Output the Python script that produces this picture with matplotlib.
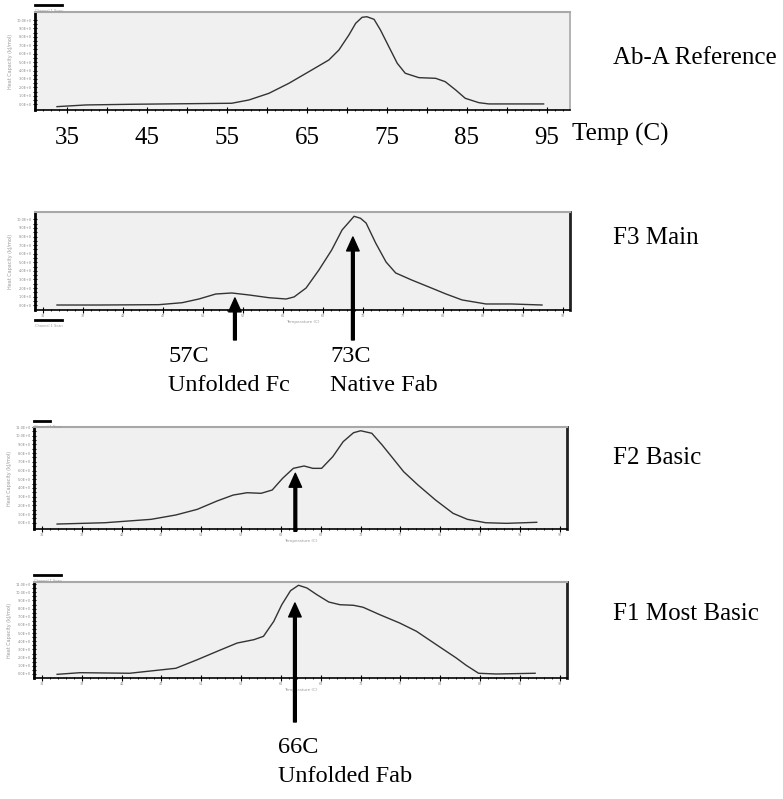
import numpy as np
import matplotlib
matplotlib.use("Agg")
import matplotlib.pyplot as plt

plt.rcParams["font.family"] = ["Liberation Serif", "DejaVu Serif"]

# curve data: temperature (C) and signal (instrument units)
ref_t = [33.75, 37.4, 43.1, 55.6, 57.75, 60.25, 62.75, 65.25, 67.75, 69.0, 70.25, 71.1, 71.9,
         72.5, 73.4, 74.2, 75.25, 76.3, 77.3, 79.0, 81.1, 82.3, 83.6, 84.8, 86.5, 87.75, 94.6]
ref_v = [-0.28, -0.08, 0.0, 0.12, 0.51, 1.30, 2.49, 3.87, 5.26, 6.44, 8.22, 9.61, 10.32,
         10.39, 10.08, 8.81, 6.83, 4.86, 3.68, 3.16, 3.08, 2.68, 1.70, 0.71, 0.19, 0.04, 0.04]

f3_t = [33.75, 39.0, 46.5, 49.4, 51.5, 53.6, 55.6, 57.75, 60.25, 62.4, 63.4, 64.9, 66.5, 68.1,
        69.4, 70.9, 71.7, 72.4, 73.6, 74.9, 76.1, 78.1, 80.25, 82.4, 84.4, 87.4, 90.6, 94.4]
f3_v = [0.03, 0.03, 0.07, 0.3, 0.73, 1.31, 1.43, 1.2, 0.88, 0.73, 0.97, 2.01, 4.1, 6.43,
        8.76, 10.35, 10.12, 9.57, 7.24, 5.03, 3.76, 2.94, 2.13, 1.31, 0.62, 0.15, 0.15, 0.03]

f2_t = [33.9, 39.9, 45.7, 48.8, 51.5, 53.95, 56.0, 57.75, 59.5, 60.9, 62.2, 63.55, 64.9, 66.0,
        67.1, 68.5, 69.8, 71.1, 72.0, 73.4, 74.7, 76.05, 77.4, 79.2, 81.4, 83.6, 85.4, 87.7,
        90.3, 94.1]
f2_v = [-0.15, 0.0, 0.39, 0.89, 1.54, 2.49, 3.18, 3.45, 3.38, 3.76, 5.1, 6.25, 6.52, 6.25,
        6.25, 7.59, 9.31, 10.34, 10.57, 10.28, 8.93, 7.4, 5.86, 4.33, 2.61, 1.08, 0.39, 0.0,
        -0.07, 0.05]

f1_t = [33.9, 36.8, 43.0, 48.8, 51.5, 54.0, 56.5, 58.6, 59.8, 61.1, 62.1, 63.2, 64.2, 65.25,
        66.5, 68.0, 69.4, 71.1, 72.3, 74.4, 76.9, 79.0, 81.5, 84.0, 85.25, 86.8, 89.0, 93.9]
f1_v = [-0.04, 0.16, 0.09, 0.7, 1.75, 2.78, 3.79, 4.20, 4.61, 6.45, 8.48, 10.20, 10.86, 10.53,
        9.71, 8.81, 8.48, 8.41, 8.17, 7.26, 6.24, 5.23, 3.59, 1.96, 1.06, 0.09, 0.0, 0.09]

panel_names = ["Ab-A Reference", "F3 Main", "F2 Basic", "F1 Most Basic"]
big_ticks = [35, 45, 55, 65, 75, 85, 95]

W, H = 783, 799
fig = plt.figure(figsize=(W / 100, H / 100), dpi=100)


def px_rect(left, top, right, bottom):
    return [left / W, 1 - bottom / H, (right - left) / W, (bottom - top) / H]


panels = [
    (ref_t, ref_v, px_rect(35, 12, 570, 110), (-0.68, 10.95), 10, 58),
    (f3_t, f3_v, px_rect(35, 212, 570, 310), (-0.55, 10.85), 10, 238),
    (f2_t, f2_v, px_rect(34, 427, 567, 529), (-0.72, 11.0), 11, 458),
    (f1_t, f1_v, px_rect(34, 582, 567, 678), (-0.49, 11.26), 11, 614),
]

axes = []
for i, (t, v, rect, ylim, ntick, label_y) in enumerate(panels):
    ax = fig.add_axes(rect)
    ax.set_facecolor("#f0f0f0")
    ax.plot(t, v, color="#333333", lw=1.0)
    ax.set_xlim(31, 97.9)
    ax.set_ylim(*ylim)

    ax.spines["top"].set_color("#a8a8a8")
    ax.spines["top"].set_linewidth(1.5)
    ax.spines["left"].set_linewidth(2)
    ax.spines["bottom"].set_linewidth(1.2)
    if i == 0:
        ax.spines["right"].set_color("#a8a8a8")
        ax.spines["right"].set_linewidth(1.2)
    else:
        ax.spines["right"].set_color("#222222")
        ax.spines["right"].set_linewidth(2)

    ax.set_yticks(np.arange(0, ntick + 1))
    ax.set_yticks(np.arange(0, ntick, 0.5), minor=True)
    ax.set_yticklabels(["%d.0E+0" % k for k in range(ntick + 1)], fontsize=2.5,
                       color="#888888", family="DejaVu Sans")
    ax.tick_params(axis="y", which="both", direction="inout", length=3, width=0.8, pad=1)
    ax.set_ylabel("Heat Capacity (kJ/mol)", fontsize=3.5, color="#999999",
                  family="DejaVu Sans", labelpad=2)

    if i == 0:
        ax.set_xticks(np.arange(35, 96, 5))
        ax.set_xticklabels([str(k) if k in big_ticks else "" for k in range(35, 96, 5)],
                           fontsize=18)
        ax.tick_params(axis="x", which="major", direction="inout", length=4, width=0.8, pad=10)
    else:
        ax.set_xticks(np.arange(32, 98, 5))
        ax.set_xticklabels([str(k) for k in range(32, 98, 5)], fontsize=2.5,
                           color="#888888", family="DejaVu Sans")
        ax.tick_params(axis="x", which="major", direction="inout", length=4, width=0.8, pad=1)
        ax.set_xlabel("Temperature (C)", fontsize=3, color="#999999",
                      family="DejaVu Sans", labelpad=1)
    ax.set_xticks(np.arange(31, 98, 1), minor=True)
    ax.tick_params(axis="x", which="minor", direction="inout", length=2, width=0.6)

    fig.text(613 / W, 1 - label_y / H, panel_names[i], fontsize=18, ha="left", va="center")
    axes.append(ax)

# small legend bars of the instrument plots
for ax, yb, x1 in [(axes[0], 1.07, 0.05), (axes[1], -0.1, 0.05), (axes[2], 1.06, 0.03),
                   (axes[3], 1.07, 0.05)]:
    ax.plot([0, x1], [yb, yb], transform=ax.transAxes, color="black", lw=2, clip_on=False)
    ax.text(0, yb - 0.06, "Channel 1 Scan", transform=ax.transAxes, fontsize=2.5,
            color="#999999", family="DejaVu Sans", va="center")

fig.text(572 / W, 1 - 134 / H, "Temp (C)", fontsize=18, ha="left", va="center")

# arrows: (axes index, temperature, tip value, tail figure fraction)
arrow_ax = [1, 1, 2, 3]
arrow_t = [56.0, 70.75, 63.8, 63.75]
arrow_tip = [0.85, 7.94, 5.68, 8.69]
arrow_tail = [0.5745, 0.5745, 0.335, 0.0964]
for k in range(4):
    axes[arrow_ax[k]].annotate(
        "", xy=(arrow_t[k], arrow_tip[k]), xycoords="data",
        xytext=(arrow_t[k], arrow_tail[k]), textcoords=("data", "figure fraction"),
        arrowprops=dict(facecolor="black", edgecolor="black", width=2, headwidth=9,
                        headlength=10, shrink=0), annotation_clip=False)

notes = [("57C\nUnfolded Fc", 168, 371), ("73C\nNative Fab", 330, 371),
         ("66C\nUnfolded Fab", 278, 762)]
for txt, x, y in notes:
    fig.text(x / W, 1 - y / H, txt, fontsize=17.5, ha="left", va="center", linespacing=1.45)

fig.savefig("out.png", dpi=100)
